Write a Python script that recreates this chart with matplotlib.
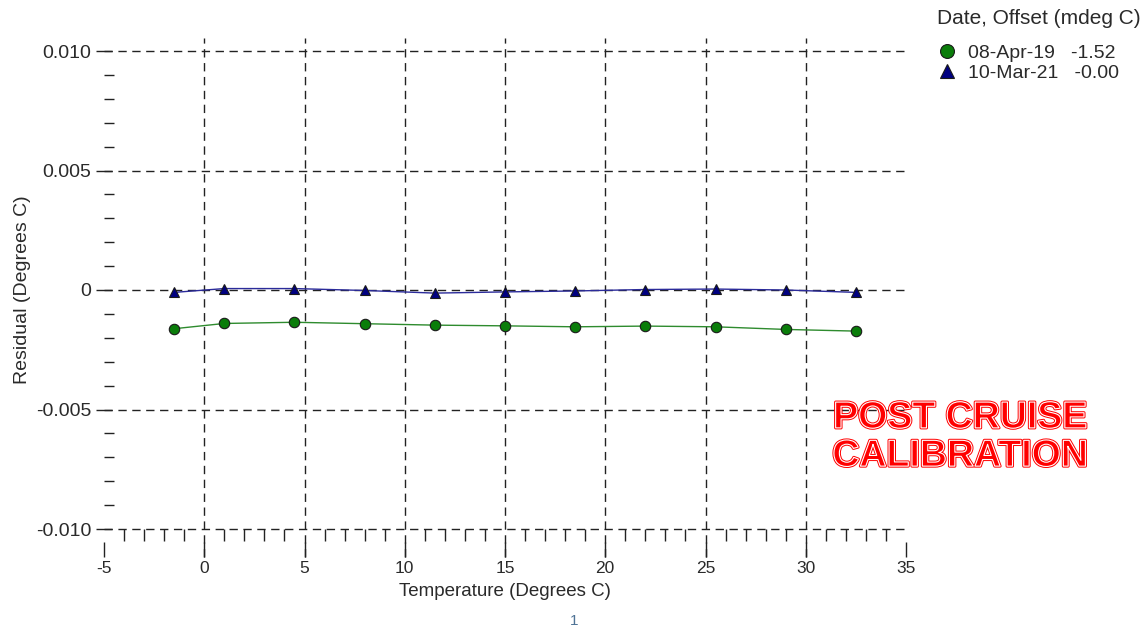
import matplotlib
matplotlib.use('Agg')
import matplotlib.pyplot as plt
import matplotlib.patheffects as pe
from matplotlib.lines import Line2D

plt.rcParams['font.family'] = ['Liberation Sans', 'DejaVu Sans']
plt.rcParams['axes.unicode_minus'] = False

# data
temps = [-1.5, 1.0, 4.5, 8.0, 11.5, 15.0, 18.5, 22.0, 25.5, 29.0, 32.5]
resid_2019 = [-0.00162, -0.00140, -0.00135, -0.00141, -0.00147, -0.00150,
              -0.00154, -0.00151, -0.00154, -0.00165, -0.00172]
resid_2021 = [-0.00010, 0.00006, 0.00006, -0.00002, -0.00013, -0.00008,
              -0.00004, 0.00002, 0.00004, 0.00000, -0.00010]
legend_labels = ['08-Apr-19   -1.52', '10-Mar-21   -0.00']
legend_title = 'Date, Offset (mdeg C)'

x_major = [-5, 0, 5, 10, 15, 20, 25, 30, 35]
x_grid = [0, 5, 10, 15, 20, 25, 30]
x_minor = [v for v in range(-4, 35) if v % 5 != 0]
y_major = [0.010, 0.005, 0.0, -0.005, -0.010]
y_major_labels = ['0.010', '0.005', '0', '-0.005', '-0.010']

W, H = 1142, 628
fig = plt.figure(figsize=(W / 100, H / 100), dpi=100)
# axes box in pixels: x 104..906, y 51..529
ax = fig.add_axes([104 / W, 1 - 529 / H, 802 / W, 478 / H])
ax.set_xlim(-5, 35)
ax.set_ylim(-0.010, 0.010)
for s in ax.spines.values():
    s.set_visible(False)

dash = (0, (6, 4))
gcol = '#222222'
tcol = '#2a2a2a'
# gridlines (drawn past the box like the original)
for y in y_major:
    ax.axhline(y, color=gcol, lw=1.0, linestyle=dash, clip_on=False, zorder=1)
for x in x_grid:
    ax.axvline(x, ymin=-0.0586, ymax=1.027, color=gcol, lw=1.0,
               linestyle=dash, clip_on=False, zorder=1)

# series
ax.plot(temps, resid_2019, color='#2e8b2e', lw=1.0, marker='o', ms=7.5,
        mfc='#0a7d0a', mec='#1a1a1a', mew=0.8, zorder=3)
ax.plot(temps, resid_2021, color='#2b2b9a', lw=1.0, marker='^', ms=7.5,
        mfc='#000080', mec='#1a1a1a', mew=0.8, zorder=3)

# y axis ticks
ax.set_yticks(y_major)
ax.set_yticklabels(y_major_labels)
ax.yaxis.set_minor_locator(matplotlib.ticker.MultipleLocator(0.001))
ax.tick_params(axis='y', which='major', direction='inout', length=12,
               width=1.0, color=gcol, pad=3, labelsize=14, labelcolor=tcol)
ax.tick_params(axis='y', which='minor', direction='in', length=7.2,
               width=1.0, color=gcol)

# x axis: major ticks dropped below the bottom line
ax.spines['bottom'].set_position(('outward', 9.4))
ax.set_xticks(x_major)
ax.tick_params(axis='x', which='major', direction='out', length=10.8,
               width=1.0, color=gcol, pad=3, labelsize=12.5, labelcolor=tcol)
ax.tick_params(axis='x', which='minor', bottom=False)

# minor x ticks hang from the bottom line
sec = ax.secondary_xaxis(0)
sec.spines['bottom'].set_visible(False)
sec.set_xticks(x_minor)
sec.set_xticklabels([])
sec.tick_params(axis='x', direction='out', length=8.6, width=1.0, color=gcol)

ax.set_xlabel('Temperature (Degrees C)', fontsize=13.5, color=tcol)
ax.xaxis.set_label_coords(0.5, -0.113)
ax.set_ylabel('Residual (Degrees C)', fontsize=14, color=tcol)
ax.yaxis.set_label_coords(-0.091, 0.5)

# legend (markers only), title as separate text
fig.text(937 / W, 1 - 18 / H, legend_title, ha='left', va='center',
         fontsize=15, color=tcol)
handles = [
    Line2D([], [], linestyle='none', marker='o', ms=10, mfc='#0a7d0a', mec='#1a1a1a', mew=0.8),
    Line2D([], [], linestyle='none', marker='^', ms=10, mfc='#000080', mec='#1a1a1a', mew=0.8),
]
leg = fig.legend(handles, legend_labels, loc='upper left',
                 bbox_to_anchor=(937 / W, 1 - 44 / H), frameon=False,
                 fontsize=14, handlelength=1.0, handletextpad=0.6,
                 labelspacing=0.15, borderaxespad=0, borderpad=0)
for t in leg.get_texts():
    t.set_color(tcol)

# stamp
fig.text(960 / W, 1 - 437 / H, 'POST CRUISE\nCALIBRATION', ha='center', va='center',
         fontsize=27, fontweight='bold', color='red', linespacing=1.08,
         path_effects=[pe.Stroke(linewidth=2.2, foreground='red'),
                       pe.Stroke(linewidth=0.8, foreground='white')])

fig.text(574 / W, 1 - 621 / H, '1', ha='center', va='center', fontsize=11,
         color='#4f7396')

fig.savefig('out.png', dpi=100)
